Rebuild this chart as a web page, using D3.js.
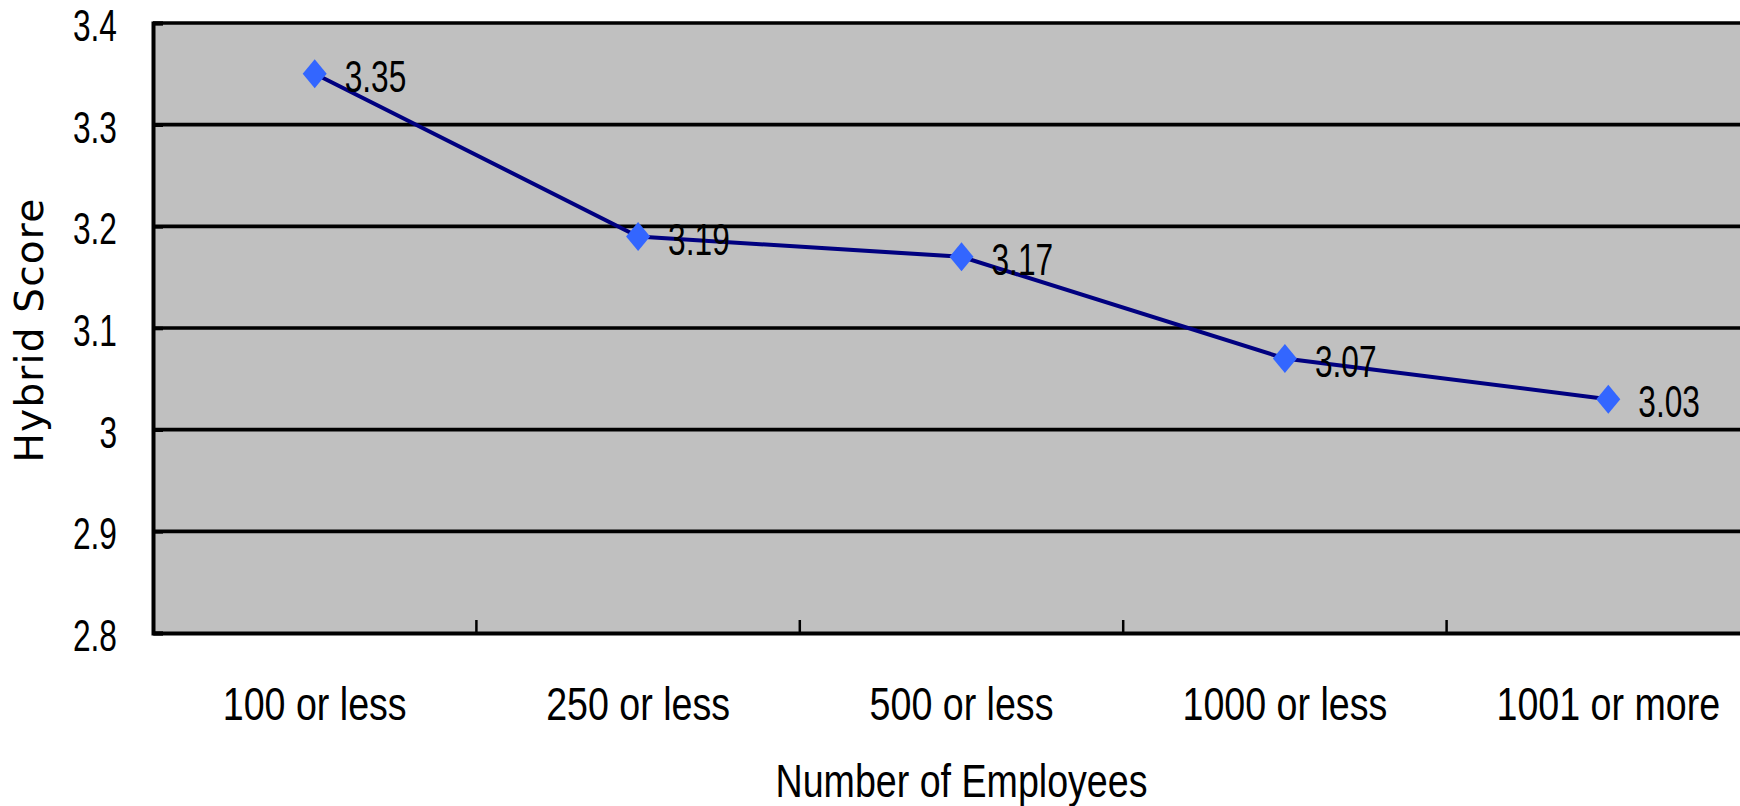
<!DOCTYPE html>
<html>
<head>
<meta charset="utf-8">
<script src="https://cdn.jsdelivr.net/npm/d3@7"></script>
<style>
  html, body { margin: 0; padding: 0; background: #fff; }
  svg { display: block; }
  .num { font-family: "Liberation Sans", Arial, sans-serif; }
</style>
</head>
<body>
<svg id="chart" width="1740" height="806"></svg>
<script>
// Hybrid score by company size
const categories = ["100 or less", "250 or less", "500 or less", "1000 or less", "1001 or more"];
const scores = [3.35, 3.19, 3.17, 3.07, 3.03];
const yTicks = [2.8, 2.9, 3.0, 3.1, 3.2, 3.3, 3.4];
const yTickLabels = ["2.8", "2.9", "3", "3.1", "3.2", "3.3", "3.4"];
const xTitle = "Number of Employees";
const yTitle = "Hybrid Score";

const svg = d3.select("#chart");
const plot = { left: 153, top: 23, bottom: 633, bandWidth: 323.4 };
plot.right = plot.left + plot.bandWidth * categories.length;

// narrow-looking text: regular sans squeezed horizontally
const NUM_SIZE = 44, NUM_SQUEEZE = 0.72;
const LABEL_SIZE = 47, LABEL_SQUEEZE = 0.8;
function narrowText(parent, px, py, str, size, squeeze, anchor) {
  return parent.append("text")
    .attr("class", "num")
    .attr("transform", `translate(${px},${py}) scale(${squeeze},1)`)
    .attr("text-anchor", anchor || "start")
    .attr("font-size", size).attr("fill", "#000")
    .text(str);
}

const x = d3.scaleBand().domain(categories).range([plot.left, plot.right]).paddingInner(0).paddingOuter(0);
const y = d3.scaleLinear().domain([2.8, 3.4]).range([plot.bottom, plot.top]);

// plot area
svg.append("rect")
  .attr("x", plot.left).attr("y", plot.top)
  .attr("width", plot.right - plot.left).attr("height", plot.bottom - plot.top)
  .attr("fill", "#c0c0c0");

// horizontal gridlines
svg.append("g").selectAll("line").data(yTicks.filter(v => v > 2.8)).join("line")
  .attr("x1", plot.left).attr("x2", plot.right)
  .attr("y1", d => y(d)).attr("y2", d => y(d))
  .attr("stroke", "#000").attr("stroke-width", 3.6);

// y axis: line and inward ticks; labels drawn squeezed on the left
const yAxis = svg.append("g").attr("transform", `translate(${plot.left},0)`)
  .call(d3.axisLeft(y).tickValues(yTicks).tickSize(-10).tickFormat(""));
yAxis.select(".domain").attr("stroke", "#000").attr("stroke-width", 4);
yAxis.selectAll(".tick line").attr("stroke", "#000").attr("stroke-width", 3.6);
const yLab = svg.append("g");
yTicks.forEach((v, i) => narrowText(yLab, 117, y(v) + 18, yTickLabels[i], NUM_SIZE, NUM_SQUEEZE, "end"));

// x axis: baseline and category-boundary ticks pointing inward
const xAxis = svg.append("g").attr("transform", `translate(0,${plot.bottom})`)
  .call(d3.axisBottom(x).tickSize(0).tickFormat(""));
xAxis.select(".domain").attr("stroke", "#000").attr("stroke-width", 4);
svg.append("g").selectAll("line").data(categories.slice(1)).join("line")
  .attr("x1", d => x(d)).attr("x2", d => x(d))
  .attr("y1", plot.bottom).attr("y2", plot.bottom - 13)
  .attr("stroke", "#000").attr("stroke-width", 2.5);
const xLab = svg.append("g");
categories.forEach(c => narrowText(xLab, x(c) + x.bandwidth() / 2, 720, c, LABEL_SIZE, LABEL_SQUEEZE, "middle"));

// series line
const pts = categories.map((c, i) => [x(c) + x.bandwidth() / 2, y(scores[i])]);
svg.append("path")
  .attr("d", d3.line()(pts))
  .attr("fill", "none").attr("stroke", "#000080").attr("stroke-width", 4);

// diamond markers
svg.append("g").selectAll("path").data(pts).join("path")
  .attr("d", d => `M${d[0]},${d[1] - 14.5}L${d[0] + 12},${d[1]}L${d[0]},${d[1] + 14.5}L${d[0] - 12},${d[1]}Z`)
  .attr("fill", "#3366ff");

// value labels
const vLab = svg.append("g");
pts.forEach((p, i) => narrowText(vLab, p[0] + 30, p[1] + 18, scores[i].toFixed(2), NUM_SIZE, NUM_SQUEEZE, "start"));

// axis titles
narrowText(svg, (plot.left + plot.right) / 2, 797, xTitle, LABEL_SIZE, LABEL_SQUEEZE, "middle");
svg.append("text")
  .attr("transform", "translate(43,330) rotate(-90)")
  .attr("text-anchor", "middle")
  .attr("font-family", "DejaVu Sans, sans-serif").attr("font-size", 39)
  .attr("letter-spacing", 1.2).attr("fill", "#000")
  .text(yTitle);
</script>
</body>
</html>
